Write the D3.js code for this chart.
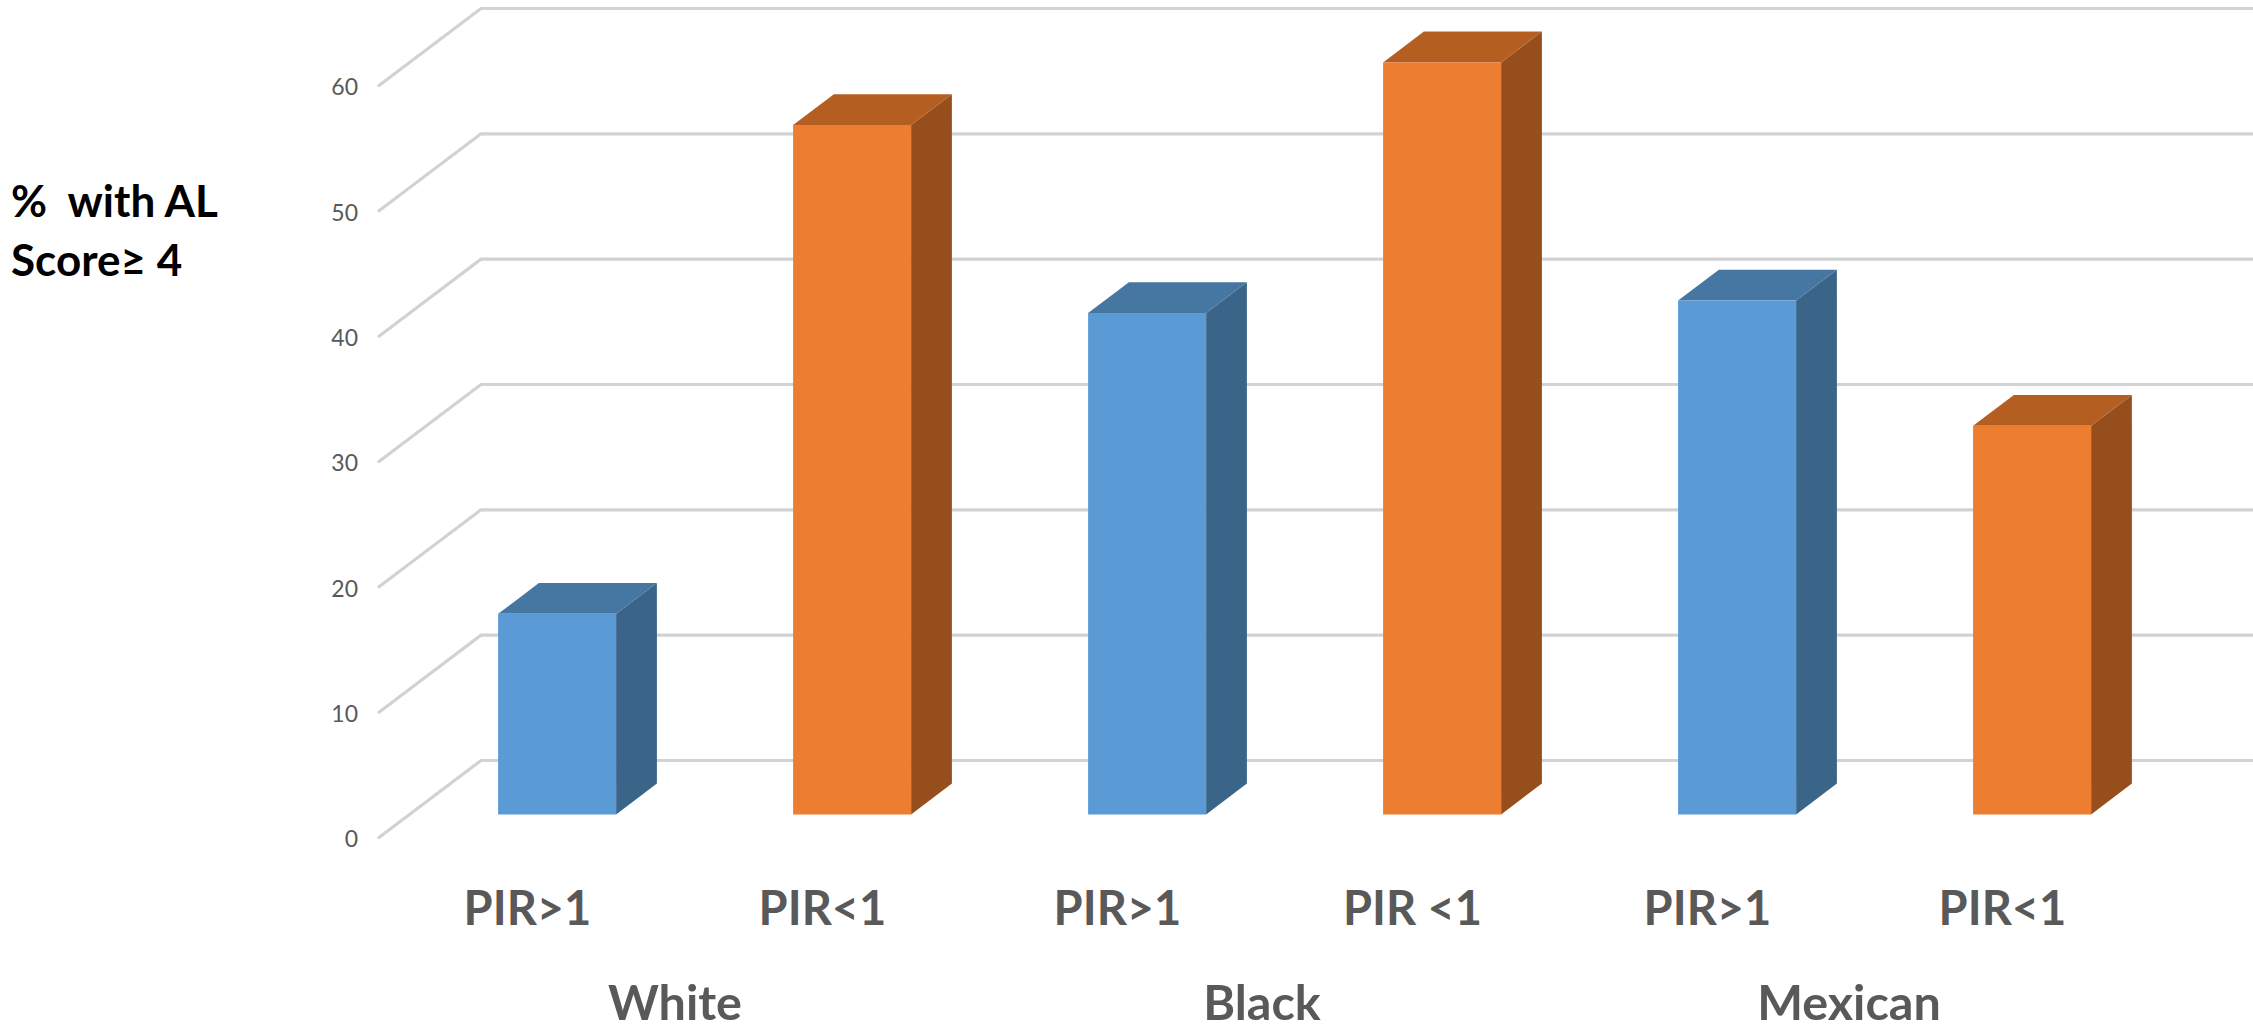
<!DOCTYPE html>
<html>
<head>
<meta charset="utf-8">
<script src="https://cdn.jsdelivr.net/npm/d3@7"></script>
<style>
  html, body { margin: 0; padding: 0; background: #fff; }
  svg { display: block; }
  text { font-family: Lato, "Open Sans", sans-serif; }
</style>
</head>
<body>
<svg id="chart" width="2253" height="1031"></svg>
<script>
// Percent of each group with an allostatic load score of 4 or more.
const incomeLabels = ["PIR>1", "PIR<1", "PIR>1", "PIR <1", "PIR>1", "PIR<1"];
const groupLabels = ["White", "Black", "Mexican"];
const percentValues = [16, 55, 40, 60, 41, 31];
const incomeLevels = ["high", "low", "high", "low", "high", "low"];
const valueTicks = [0, 10, 20, 30, 40, 50, 60];
const yTitleLines = ["%  with AL", "Score\u2265 4"];

const palette = {
  high: { front: "#5b9bd5", top: "#4676a2", side: "#3a6488" },
  low:  { front: "#ed7d31", top: "#b55e22", side: "#964f1c" }
};

const svg = d3.select("#chart");
const width = 2253, bandStep = 295;

// Front plane of the oblique box: x runs along categories, y along values.
const x = d3.scaleBand()
  .domain(d3.range(incomeLabels.length))
  .range([379, 379 + bandStep * incomeLabels.length])
  .paddingInner(1 - 118 / bandStep)
  .paddingOuter((1 - 118 / bandStep) / 2);
const y = d3.scaleLinear().domain([0, 60]).range([837.5, 85.5]);

// Depth into the chart moves a point up and to the right.
const depthX = d3.scaleLinear().domain([0, 1]).range([0, 102]);
const depthY = d3.scaleLinear().domain([0, 1]).range([0, -77]);
const project = (px, value, depth) => [px + depthX(depth), y(value) + depthY(depth)];
const barNear = 0.3, barFar = 0.7;
const polygon = pts => pts.map(p => p.join(",")).join(" ");

// Gridlines: a diagonal along the floor side, then a run across the back wall.
svg.append("g").selectAll("polyline").data(valueTicks).join("polyline")
  .attr("fill", "none")
  .attr("stroke", "#d2d2d2")
  .attr("stroke-width", 3.2)
  .attr("stroke-linecap", "round")
  .attr("points", v => polygon([project(x.range()[0], v, 0), project(x.range()[0], v, 1), [width, y(v) + depthY(1)]]));

// Three visible faces of each bar.
const bars = svg.append("g").selectAll("g")
  .data(percentValues.map((value, i) => ({ value, i, colors: palette[incomeLevels[i]] })))
  .join("g");

bars.append("polygon").attr("fill", d => d.colors.side).attr("points", d => {
  const r = x(d.i) + x.bandwidth();
  return polygon([project(r, 0, barNear), project(r, 0, barFar), project(r, d.value, barFar), project(r, d.value, barNear)]);
});
bars.append("polygon").attr("fill", d => d.colors.top).attr("points", d => {
  const l = x(d.i), r = l + x.bandwidth();
  return polygon([project(l, d.value, barNear), project(l, d.value, barFar), project(r, d.value, barFar), project(r, d.value, barNear)]);
});
bars.append("polygon").attr("fill", d => d.colors.front).attr("points", d => {
  const l = x(d.i), r = l + x.bandwidth();
  return polygon([project(l, 0, barNear), project(r, 0, barNear), project(r, d.value, barNear), project(l, d.value, barNear)]);
});

// Value axis labels.
const yAxis = svg.append("g").attr("transform", "translate(358,1)")
  .call(d3.axisLeft(y).tickValues(valueTicks).tickSize(0).tickPadding(0));
yAxis.select(".domain").remove();
yAxis.selectAll("text")
  .attr("font-size", 23).attr("fill", "#595959").attr("dy", "0.36em")
  .style("font-family", "Lato, sans-serif");

// Income labels under each bar.
const incomeAxis = svg.append("g").attr("transform", "translate(1,925)")
  .call(d3.axisBottom(x).tickSize(0).tickPadding(0).tickFormat(i => incomeLabels[i]));
incomeAxis.select(".domain").remove();
incomeAxis.selectAll("text")
  .attr("y", 0).attr("dy", 0)
  .attr("font-size", 47).attr("font-weight", 700).attr("fill", "#595959")
  .style("font-family", "Lato, sans-serif");

// Population groups, each centred under its pair of bars.
svg.append("g").selectAll("text").data(groupLabels).join("text")
  .attr("x", (d, i) => 675 + 587 * i)
  .attr("y", 1020)
  .attr("text-anchor", "middle")
  .attr("font-size", 48.5).attr("font-weight", 700).attr("fill", "#595959")
  .text(d => d);

// Axis title at the upper left.
svg.append("g").selectAll("text").data(yTitleLines).join("text")
  .attr("x", 11)
  .attr("y", (d, i) => 217 + i * 58.5)
  .attr("font-size", 44).attr("font-weight", 700).attr("fill", "#000")
  .style("white-space", "pre")
  .text(d => d);
</script>
</body>
</html>
